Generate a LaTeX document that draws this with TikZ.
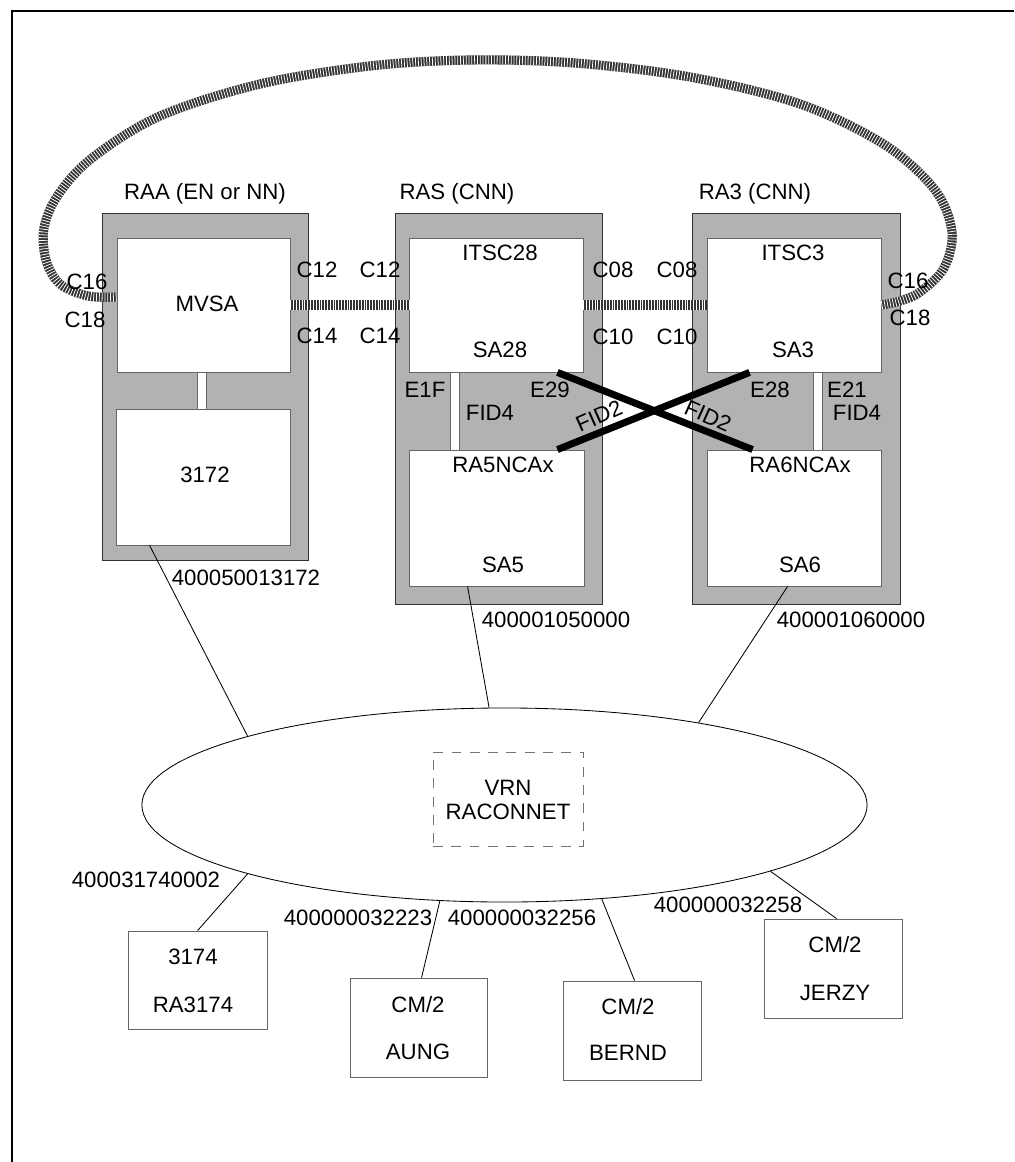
\documentclass[tikz,border=0pt]{standalone}
\usepackage{fontspec}
\setmainfont{Liberation Sans}
\usetikzlibrary{shapes.geometric,fit,calc}
\begin{document}
\begin{tikzpicture}[x=0.025cm,y=-0.025cm,
  every node/.style={font=\fontsize{15.8pt}{18pt}\selectfont},
  grp/.style={draw=black!80,fill=black!30,inner sep=0pt,line width=0.6pt},
  wbox/.style={draw=black!60,fill=white,inner sep=0pt,line width=0.6pt},
  wbar/.style={draw=black!60,fill=white,inner sep=0pt,line width=0.5pt},
  lbl/.style={inner sep=1pt},
  hatchbase/.style={line width=6.5pt,black!80},
  hatchtop/.style={line width=6.5pt,white,dash pattern=on 0.55pt off 1.45pt},
  xlink/.style={line width=5pt,black},
  thin/.style={line width=0.6pt,black},
  dbox/.style={draw=black!55,dash pattern=on 7pt off 6pt,line width=0.7pt,inner sep=0pt}
]
\useasboundingbox (0,0) rectangle (1014,1162);
% frame
\draw[line width=1pt] (12,1162) -- (12,11) -- (1014,11);

% group boxes
\node[grp,fit={(102,213)(308,560)}] (graa) {};
\node[grp,fit={(395,213)(602,604)}] (gras) {};
\node[grp,fit={(692,213)(900,604)}] (gra3) {};

% white bars
\node[wbar,fit={(197,372)(206,409)}] (bar1) {};
\node[wbar,fit={(450,372)(459,450)}] (bar2) {};
\node[wbar,fit={(813,372)(822,450)}] (bar3) {};

% inner boxes
\node[wbox,fit={(117,238)(290,372)}] (mvsa) {};
\node[wbox,fit={(116,409)(290,545)}] (c3172) {};
\node[wbox,fit={(409,238)(583,372)}] (itsc28) {};
\node[wbox,fit={(409,450)(584,586)}] (ra5) {};
\node[wbox,fit={(707,238)(881,372)}] (itsc3) {};
\node[wbox,fit={(707,450)(881,586)}] (ra6) {};

% hatched links
\foreach \s in {hatchbase,hatchtop}{
  \draw[\s] (mvsa.east) -- (itsc28.west);
  \draw[\s] (itsc28.east) -- (itsc3.west);
  \draw[\s] plot[smooth,tension=0.55] coordinates {($(mvsa.west)+(0,-8)$) (88,296) (60,284) (46,260) (44,228) (58,195) (92,158) (160,116) (260,84) (370,66) (470,60) (575,63) (690,77) (800,104) (885,145) (935,190) (952,232) (944,268) (920,292) (900,301) (itsc3.east)};
}

% crossing links
\draw[xlink] ($(itsc28.south east)+(-26,0)$) -- ($(ra6.north west)+(46,0)$);
\draw[xlink] ($(ra5.north east)+(-27,0)$) -- ($(itsc3.south west)+(43,0)$);

% group labels
\node[lbl] (lraa) at (205,194) {RAA (EN or NN)};
\node[lbl] (lras) at (457,194) {RAS (CNN)};
\node[lbl] (lra3) at (755,194) {RA3 (CNN)};

% box texts
\node[lbl] (tmvsa) at (207,304) {MVSA};
\node[lbl] (t3172) at (205,475) {3172};
\node[lbl] (titsc28) at (500,253) {ITSC28};
\node[lbl] (tsa28) at (500,350) {SA28};
\node[lbl] (titsc3) at (793,253) {ITSC3};
\node[lbl] (tsa3) at (793,350) {SA3};
\node[lbl] (tra5) at (503,465) {RA5NCAx};
\node[lbl] (tsa5) at (503,565) {SA5};
\node[lbl] (tra6) at (800,465) {RA6NCAx};
\node[lbl] (tsa6) at (800,565) {SA6};

% port labels
\node[lbl] (c16l) at (87,282) {C16};
\node[lbl] (c18l) at (85,320) {C18};
\node[lbl] (c12a) at (317,270) {C12};
\node[lbl] (c14a) at (317,336) {C14};
\node[lbl] (c12b) at (380,270) {C12};
\node[lbl] (c14b) at (380,336) {C14};
\node[lbl] (c08a) at (613,270) {C08};
\node[lbl] (c10a) at (613,337) {C10};
\node[lbl] (c08b) at (677,270) {C08};
\node[lbl] (c10b) at (677,337) {C10};
\node[lbl] (c16r) at (908,281) {C16};
\node[lbl] (c18r) at (910,318) {C18};
\node[lbl] (e1f) at (425,390) {E1F};
\node[lbl] (e29) at (550,390) {E29};
\node[lbl] (e28) at (770,390) {E28};
\node[lbl] (e21) at (847,390) {E21};
\node[lbl] (fid4a) at (490,413) {FID4};
\node[lbl] (fid4b) at (857,413) {FID4};
\node[lbl,rotate=24] (fid2a) at (599,416) {FID2};
\node[lbl,rotate=-24] (fid2b) at (708,416) {FID2};

% network
\node[ellipse,draw,thin,minimum width=18.125cm,minimum height=4.85cm,inner sep=0pt] (net) at (504.5,805) {};
\node[dbox,fit={(433,752)(583,846)}] (vrn) {};
\node[lbl] (tvrn) at (508,788) {VRN};
\node[lbl] (traconnet) at (508,812) {RACONNET};

% address labels
\node[lbl] (a1) at (246,578) {400050013172};
\node[lbl] (a2) at (556,620) {400001050000};
\node[lbl] (a3) at (851,620) {400001060000};
\node[lbl] (a4) at (146,880) {400031740002};
\node[lbl] (a5) at (358,918) {400000032223};
\node[lbl] (a6) at (522,918) {400000032256};
\node[lbl] (a7) at (728,905) {400000032258};

% bottom boxes
\node[wbox,fit={(128,931)(267,1029)}] (b3174) {};
\node[wbox,fit={(350,978)(487,1077)}] (baung) {};
\node[wbox,fit={(563,981)(701,1080)}] (bbernd) {};
\node[wbox,fit={(764,919)(902,1018)}] (bjerzy) {};
\node[lbl] (t3174) at (193,957) {3174};
\node[lbl] (tra3174) at (193,1005) {RA3174};
\node[lbl] (tcm1) at (418,1005) {CM/2};
\node[lbl] (taung) at (418,1052) {AUNG};
\node[lbl] (tcm2) at (628,1007) {CM/2};
\node[lbl] (tbernd) at (628,1053) {BERND};
\node[lbl] (tcm3) at (835,945) {CM/2};
\node[lbl] (tjerzy) at (835,993) {JERZY};

% thin connectors
\draw[thin] ($(c3172.south west)+(34,0)$) -- (net.165.4);
\draw[thin] ($(ra5.south west)+(59,0)$) -- (net.99.4);
\draw[thin] ($(ra6.south west)+(81,0)$) -- (net.23.7);
\draw[thin] (net.195) -- ($(b3174.north west)+(70,0)$);
\draw[thin] (net.236) -- ($(baung.north west)+(72,0)$);
\draw[thin] (net.316) -- ($(bbernd.north west)+(72,0)$);
\draw[thin] (net.346.4) -- ($(bjerzy.north west)+(73,0)$);
\end{tikzpicture}
\end{document}
